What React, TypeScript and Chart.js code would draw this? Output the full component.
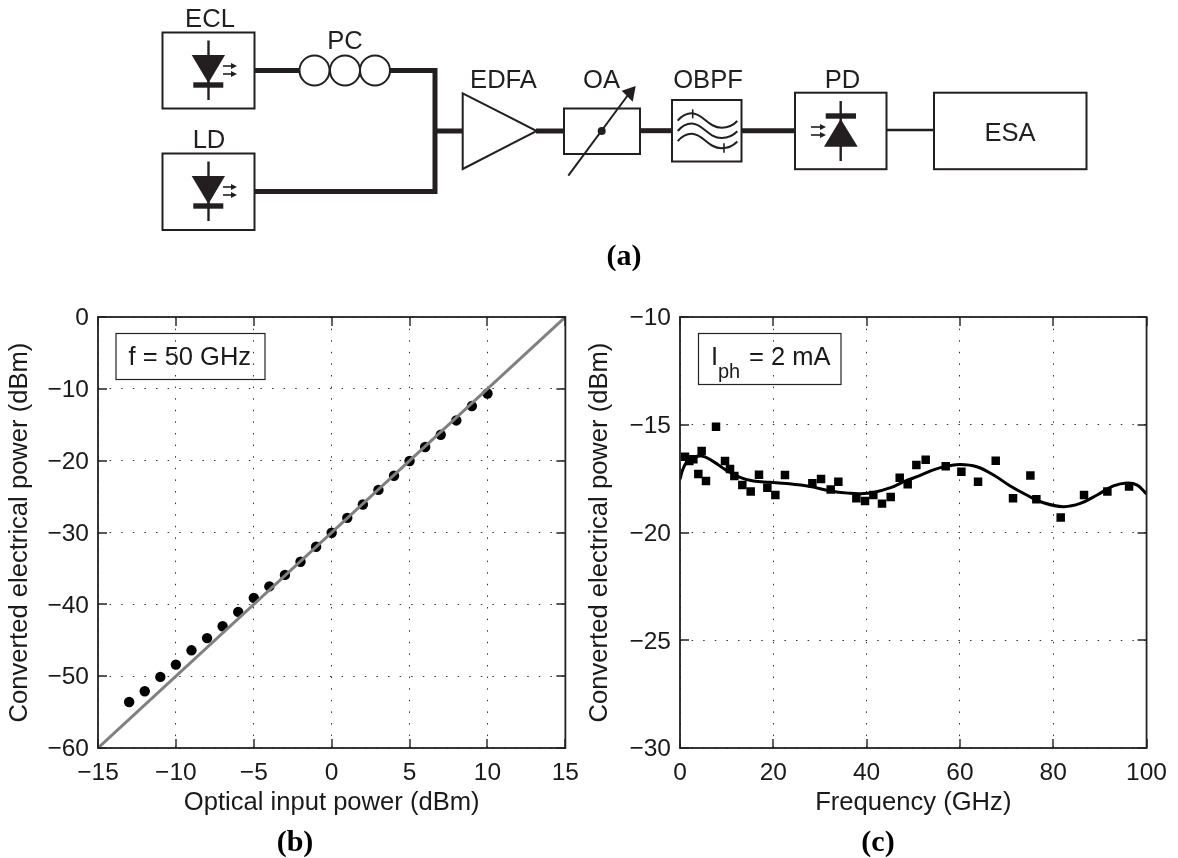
import React, { useEffect, useRef } from "react";
import { Chart, registerables } from "chart.js";

Chart.register(...registerables);

// Panel (b)
const inputPower = [-13, -12, -11, -10, -9, -8, -7, -6, -5, -4, -3, -2, -1, 0, 1, 2, 3, 4, 5, 6, 7, 8, 9, 10];
const convertedPower = [-53.6, -52.1, -50.1, -48.4, -46.4, -44.7, -43.05, -41.05, -39.1, -37.5, -35.9, -34.07, -31.98, -30.04, -27.96, -26.1, -24.07, -22.1, -20.04, -18.1, -16.4, -14.4, -12.4, -10.65];
const idealInput = [-15, 15];
const idealOutput = [-60, 0];
const bXTicks = [-15, -10, -5, 0, 5, 10, 15];
const bYTicks = [-60, -50, -40, -30, -20, -10, 0];

// Panel (c)
const freqPoints = [1.07, 2.0, 2.86, 3.93, 4.64, 5.57, 7.72, 9.65, 10.72, 11.65, 13.36, 15.15, 16.93, 18.72, 20.44, 22.5, 28.37, 30.23, 32.3, 33.94, 37.8, 39.66, 41.44, 43.3, 45.16, 47.09, 48.8, 50.66, 52.66, 56.95, 60.31, 63.88, 67.67, 71.38, 75.1, 76.38, 81.6, 86.6, 91.6, 96.25];
const freqPower = [-16.48, -16.68, -16.6, -17.29, -16.22, -17.61, -15.09, -16.68, -17.05, -17.38, -17.8, -18.1, -17.32, -17.92, -18.26, -17.33, -17.72, -17.52, -18.0, -17.64, -18.41, -18.54, -18.26, -18.66, -18.35, -17.46, -17.76, -16.87, -16.62, -16.93, -17.18, -17.64, -16.67, -18.41, -17.36, -18.46, -19.3, -18.26, -18.1, -17.87];
const fitFreq = [0, 0.7, 2, 4.64, 7.17, 9.65, 12.86, 15.72, 19.3, 22.9, 27.9, 32.2, 36.4, 38.6, 41.44, 45.16, 48, 51.5, 54, 57, 60, 63.6, 67.2, 70.7, 74.3, 77.9, 82.2, 85.8, 89.4, 92.9, 95.8, 98, 100];
const fitPower = [-17.53, -17.02, -16.6, -16.45, -16.71, -17.07, -17.44, -17.61, -17.67, -17.73, -17.87, -18.07, -18.18, -18.2, -18.14, -17.92, -17.64, -17.35, -17.12, -16.93, -16.85, -16.95, -17.33, -17.83, -18.26, -18.62, -18.8, -18.65, -18.26, -17.84, -17.7, -17.8, -18.21];
const cXTicks = [0, 20, 40, 60, 80, 100];
const cYTicks = [-30, -25, -20, -15, -10];

const SANS = '"Liberation Sans", Arial, sans-serif';
const INK = "#1a1a1a";
const DIAGRAM = "#231f20";

const frame = {
  id: "frame",
  afterDatasetsDraw(chart: any) {
    const { ctx, chartArea: a, scales } = chart;
    const len = 9;
    ctx.save();
    ctx.strokeStyle = "#222";
    ctx.lineWidth = 1.4;
    ctx.beginPath();
    for (const t of scales.x.ticks) {
      const p = Math.round(scales.x.getPixelForValue(t.value));
      ctx.moveTo(p, a.bottom);
      ctx.lineTo(p, a.bottom - len);
      ctx.moveTo(p, a.top);
      ctx.lineTo(p, a.top + len);
    }
    for (const t of scales.y.ticks) {
      const p = Math.round(scales.y.getPixelForValue(t.value));
      ctx.moveTo(a.left, p);
      ctx.lineTo(a.left + len, p);
      ctx.moveTo(a.right, p);
      ctx.lineTo(a.right - len, p);
    }
    ctx.stroke();
    ctx.lineWidth = 1.8;
    ctx.strokeRect(a.left, a.top, a.right - a.left, a.bottom - a.top);
    ctx.restore();
  },
};

const fmt = (v: any) => String(v).replace("-", "\u2212");

function axis(min: number, max: number, values: number[], title: string, isX: boolean, fixed: number) {
  return {
    type: "linear",
    min,
    max,
    afterBuildTicks: (s: any) => {
      s.ticks = values.map((value) => ({ value }));
    },
    afterFit: (s: any) => {
      if (isX) s.height = fixed;
      else s.width = fixed;
    },
    grid: { color: "#333", lineWidth: 1, drawTicks: false, tickLength: 0 },
    border: { display: false, dash: [1.5, 10.1] },
    ticks: {
      callback: fmt,
      color: INK,
      padding: isX ? 11 : 9,
      labelOffset: isX ? 0 : 1.5,
      maxRotation: 0,
      autoSkip: false,
      font: { family: SANS, size: 24.5 },
    },
    title: {
      display: true,
      text: title,
      color: INK,
      font: { family: SANS, size: 25.6 },
      padding: isX ? { top: 0, bottom: 10 } : { top: 5, bottom: 0 },
    },
  };
}

function makeChart(canvas: HTMLCanvasElement, datasets: any[], xAxis: any, yAxis: any, padding: any) {
  return new Chart(canvas, {
    type: "scatter",
    data: { datasets },
    plugins: [frame],
    options: {
      animation: false,
      responsive: false,
      layout: { padding },
      plugins: { legend: { display: false }, tooltip: { enabled: false } },
      scales: { x: xAxis, y: yAxis },
    },
  } as any);
}

const pairs = (xs: number[], ys: number[]) => xs.map((x, i) => ({ x, y: ys[i] }));

function Beam({ x1, x2, y }: { x1: number; x2: number; y: number }) {
  return (
    <g stroke={DIAGRAM} fill={DIAGRAM}>
      <line x1={x1} y1={y} x2={x2 - 3} y2={y} strokeWidth={1.6} />
      <polygon points={`${x2},${y} ${x2 - 6},${y - 3} ${x2 - 6},${y + 3}`} stroke="none" />
    </g>
  );
}

function Laser({ dy }: { dy: number }) {
  return (
    <g transform={`translate(0 ${dy})`} stroke={DIAGRAM} fill={DIAGRAM}>
      <line x1={208.5} y1={40.5} x2={208.5} y2={100} strokeWidth={2.4} />
      <polygon points="191.7,55 225,55 208.4,83" stroke="none" />
      <rect x={193.3} y={82.3} width={30} height={5.4} stroke="none" />
      <Beam x1={223} x2={237} y={66} />
      <Beam x1={223} x2={237} y={74} />
    </g>
  );
}

function Wave({ dy }: { dy: number }) {
  return (
    <path
      transform={`translate(0 ${dy})`}
      d="M677.7 120.7 Q684 113.3 691.7 113.3 C703 113.3 708 127.7 721.7 127.7 Q731 127.7 737.3 121"
      fill="none"
      stroke={DIAGRAM}
      strokeWidth={2}
    />
  );
}

function Label({ x, y, children }: { x: number; y: number; children: any }) {
  return (
    <text x={x} y={y} textAnchor="middle" fontFamily={SANS} fontSize={25.6} fill={DIAGRAM}>
      {children}
    </text>
  );
}

function Caption({ x, y, children }: { x: number; y: number; children: any }) {
  return (
    <text x={x} y={y} textAnchor="middle" fontFamily='"Liberation Serif", serif' fontWeight="bold" fontSize={30} fill="#000">
      {children}
    </text>
  );
}

function Diagram() {
  const box = { fill: "none", stroke: DIAGRAM, strokeWidth: 2 };
  const fibre = { stroke: DIAGRAM, strokeWidth: 5, fill: "none" };
  return (
    <g>
      <rect x={162.5} y={32.5} width={92} height={76} {...box} />
      <rect x={162.5} y={153.5} width={92} height={76.5} {...box} />
      <Laser dy={0} />
      <Laser dy={121} />
      <Label x={210} y={27}>ECL</Label>
      <Label x={209} y={148}>LD</Label>
      <Label x={345} y={49}>PC</Label>
      <Label x={503.5} y={88}>EDFA</Label>
      <Label x={601.5} y={88}>OA</Label>
      <Label x={708} y={88}>OBPF</Label>
      <Label x={842.5} y={88}>PD</Label>
      <Label x={1010} y={141}>ESA</Label>
      <line x1={254} y1={70.5} x2={299} y2={70.5} {...fibre} />
      <circle cx={314.5} cy={70.5} r={15} {...box} />
      <circle cx={345} cy={70.5} r={15} {...box} />
      <circle cx={375} cy={70.5} r={15} {...box} />
      <path d="M390 70.5 H435 V191.5 H254" {...fibre} />
      <line x1={433} y1={131} x2={463} y2={131} {...fibre} />
      <polygon points="462.7,93.3 462.7,169 536.7,131" {...box} />
      <line x1={536} y1={131} x2={564} y2={131} {...fibre} />
      <rect x={564} y={108.5} width={76} height={45.5} {...box} />
      <line x1={568.3} y1={175.7} x2={628} y2={95} stroke={DIAGRAM} strokeWidth={2} />
      <polygon points="635.7,86 621.7,90.7 632.7,101.7" fill={DIAGRAM} />
      <circle cx={601.7} cy={131} r={4} fill={DIAGRAM} />
      <line x1={640} y1={130.7} x2={672} y2={130.7} {...fibre} />
      <rect x={672} y={100} width={69.5} height={61.5} {...box} />
      <Wave dy={0} />
      <Wave dy={10.3} />
      <Wave dy={20.5} />
      <line x1={692.7} y1={109.3} x2={692.7} y2={118.3} stroke={DIAGRAM} strokeWidth={1.6} />
      <line x1={724} y1={143.3} x2={724} y2={152.7} stroke={DIAGRAM} strokeWidth={1.6} />
      <line x1={741} y1={130.7} x2={795} y2={130.7} {...fibre} />
      <rect x={795} y={92.7} width={91.5} height={76.5} {...box} />
      <line x1={840.7} y1={101} x2={840.7} y2={161} stroke={DIAGRAM} strokeWidth={2.4} />
      <rect x={825.7} y={113.3} width={30.3} height={5.4} fill={DIAGRAM} />
      <polygon points="840.7,119 824,146.7 857.7,146.7" fill={DIAGRAM} />
      <Beam x1={811} x2={826} y={127} />
      <Beam x1={811} x2={826} y={135} />
      <line x1={886} y1={130} x2={934} y2={130} stroke={DIAGRAM} strokeWidth={2.5} />
      <rect x={934} y={92.7} width={152.5} height={76.5} {...box} />
    </g>
  );
}

function Notes() {
  const noteBox = { fill: "none", stroke: "#222", strokeWidth: 1.2 };
  const noteText = { fontFamily: SANS, fontSize: 25.5, fill: INK };
  return (
    <g>
      <rect x={116} y={333.5} width={149} height={46} {...noteBox} />
      <text x={128.5} y={365} {...noteText}>f = 50 GHz</text>
      <rect x={698.5} y={333.5} width={142.5} height={51} {...noteBox} />
      <text x={711} y={365} {...noteText}>I</text>
      <text x={718} y={378} {...noteText} fontSize={20}>ph</text>
      <text x={749} y={365} {...noteText}>= 2 mA</text>
    </g>
  );
}

export default function App() {
  const bRef = useRef<HTMLCanvasElement>(null);
  const cRef = useRef<HTMLCanvasElement>(null);

  useEffect(() => {
    // both canvases start at page y = 290; plot areas end up at x 98..566 and 680..1148, y 317..748
    const b = makeChart(
      bRef.current!,
      [
        { data: pairs(idealInput, idealOutput), showLine: true, borderColor: "#808080", borderWidth: 3, pointRadius: 0 },
        { data: pairs(inputPower, convertedPower), showLine: false, backgroundColor: "#000", pointStyle: "circle", pointRadius: 5.2, borderWidth: 0 },
      ],
      axis(-15, 15, bXTicks, "Optical input power (dBm)", true, 80),
      axis(-60, 0, bYTicks, "Converted electrical power (dBm)", false, 98),
      { left: 0, top: 27, right: 24, bottom: 30 }
    );
    const c = makeChart(
      cRef.current!,
      [
        { data: pairs(freqPoints, freqPower), showLine: false, backgroundColor: "#000", pointStyle: "rect", pointRadius: 6, borderWidth: 0 },
        { data: pairs(fitFreq, fitPower), showLine: true, borderColor: "#000", borderWidth: 3, pointRadius: 0, tension: 0.4 },
      ],
      axis(0, 100, cXTicks, "Frequency (GHz)", true, 80),
      axis(-30, -10, cYTicks, "Converted electrical power (dBm)", false, 100),
      { left: 0, top: 27, right: 30, bottom: 30 }
    );
    return () => {
      b.destroy();
      c.destroy();
    };
  }, []);

  return (
    <div style={{ position: "fixed", left: 0, top: 0, width: 1178, height: 858, background: "#fff", overflow: "hidden" }}>
      <canvas ref={bRef} width={590} height={568} style={{ position: "absolute", left: 0, top: 290, width: 590, height: 568 }} />
      <canvas ref={cRef} width={598} height={568} style={{ position: "absolute", left: 580, top: 290, width: 598, height: 568 }} />
      <svg width={1178} height={858} style={{ position: "absolute", left: 0, top: 0 }}>
        <Diagram />
        <Notes />
        <Caption x={624} y={265}>(a)</Caption>
        <Caption x={295} y={851}>(b)</Caption>
        <Caption x={878} y={851}>(c)</Caption>
      </svg>
    </div>
  );
}
